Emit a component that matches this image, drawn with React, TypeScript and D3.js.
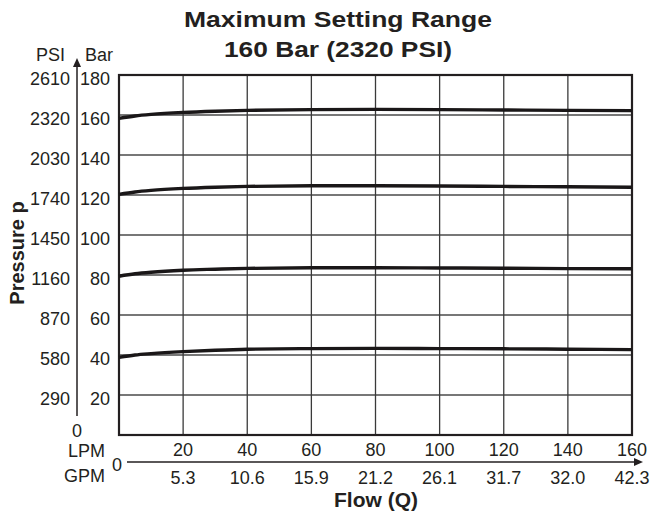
import React from 'react';
import * as d3 from 'd3';

// ---- data ----
const flowLPM = [0, 5, 10, 20, 30, 40, 60, 80, 100, 120, 140, 160];
const curve160 = [158.3, 159.5, 160.3, 161.3, 161.9, 162.3, 162.7, 162.8, 162.7, 162.5, 162.3, 162.2];
const curve120 = [120.3, 121.5, 122.3, 123.3, 123.9, 124.3, 124.6, 124.6, 124.5, 124.3, 124.1, 123.9];
const curve80 = [79.4, 80.6, 81.4, 82.4, 82.9, 83.3, 83.6, 83.6, 83.5, 83.4, 83.2, 83.1];
const curve40 = [38.8, 40.0, 40.7, 41.7, 42.4, 42.9, 43.2, 43.3, 43.2, 43.1, 42.9, 42.7];
const seriesList = [curve160, curve120, curve80, curve40];

const barTicks = [20, 40, 60, 80, 100, 120, 140, 160, 180];
const psiLabels = ['290', '580', '870', '1160', '1450', '1740', '2030', '2320', '2610'];
const lpmTicks = [20, 40, 60, 80, 100, 120, 140, 160];
const gpmLabels = ['5.3', '10.6', '15.9', '21.2', '26.1', '31.7', '32.0', '42.3'];

const titleLines = ['Maximum Setting Range', '160 Bar (2320 PSI)'];

export default function App() {
  const W = 654, H = 514;
  const left = 119, right = 632, top = 75, bottom = 435;
  const x = d3.scaleLinear().domain([0, 160]).range([left, right]);
  const y = d3.scaleLinear().domain([0, 180]).range([bottom, top]);
  const line = d3.line<number>()
    .x((_, i) => x(flowLPM[i]))
    .y((d) => y(d))
    .curve(d3.curveMonotoneX);

  const font = 'Liberation Sans, Arial, Helvetica, sans-serif';
  const axX = 77;
  const axY = 462;

  return (
    <svg width={W} height={H} style={{ position: 'absolute', left: 0, top: 0, background: '#fff' }}
      fontFamily={font}>
      {/* title */}
      <text x={338} y={27} textAnchor="middle" fontSize={22.5} fontWeight="bold" fill="#231f20"
        textLength={308} lengthAdjust="spacingAndGlyphs">{titleLines[0]}</text>
      <text x={338} y={57} textAnchor="middle" fontSize={22.5} fontWeight="bold" fill="#231f20"
        textLength={228} lengthAdjust="spacingAndGlyphs">{titleLines[1]}</text>

      {/* grid */}
      {barTicks.map((b) => (
        <line key={'h' + b} x1={left} x2={right} y1={y(b)} y2={y(b)} stroke="#4a4a4a" strokeWidth={1.3} />
      ))}
      {lpmTicks.map((v) => (
        <line key={'v' + v} x1={x(v)} x2={x(v)} y1={top} y2={bottom} stroke="#3a3a3a" strokeWidth={1.3} />
      ))}
      {/* frame */}
      <rect x={left} y={top} width={right - left} height={bottom - top} fill="none" stroke="#231f20" strokeWidth={2.2} />

      {/* curves */}
      {seriesList.map((s, i) => (
        <path key={'c' + i} d={line(s) || ''} fill="none" stroke="#1a1718" strokeWidth={3.4} strokeLinecap="butt" />
      ))}

      {/* left axis */}
      <line x1={axX} x2={axX} y1={66} y2={416} stroke="#231f20" strokeWidth={1.5} />
      <path d={`M${axX},58 L${axX - 4},67 L${axX + 4},67 Z`} fill="#231f20" />
      <text x={65} y={61} textAnchor="end" fontSize={18} fill="#231f20">PSI</text>
      <text x={85} y={61} textAnchor="start" fontSize={18} fill="#231f20">Bar</text>
      {barTicks.map((b, i) => (
        <g key={'yl' + b}>
          <text x={70} y={y(b) + 9.5} textAnchor="end" fontSize={18} fill="#231f20">{psiLabels[i]}</text>
          <text x={110} y={y(b) + 9.5} textAnchor="end" fontSize={18} fill="#231f20">{String(b)}</text>
        </g>
      ))}
      <text x={axX} y={437} textAnchor="middle" fontSize={18} fill="#231f20">0</text>

      {/* bottom axis */}
      <line x1={127} x2={636} y1={axY} y2={axY} stroke="#231f20" strokeWidth={1.5} />
      <path d={`M643,${axY} L634,${axY - 4} L634,${axY + 4} Z`} fill="#231f20" />
      <text x={117} y={470.5} textAnchor="middle" fontSize={18} fill="#231f20">0</text>
      <text x={105} y={457} textAnchor="end" fontSize={18} fill="#231f20">LPM</text>
      <text x={105} y={482} textAnchor="end" fontSize={18} fill="#231f20">GPM</text>
      {lpmTicks.map((v, i) => (
        <g key={'xl' + v}>
          <text x={x(v)} y={456} textAnchor="middle" fontSize={18} fill="#231f20">{String(v)}</text>
          <text x={x(v)} y={483.5} textAnchor="middle" fontSize={18} fill="#231f20">{gpmLabels[i]}</text>
        </g>
      ))}

      {/* axis titles */}
      <text x={376} y={507} textAnchor="middle" fontSize={20} fontWeight="bold" fill="#231f20"
        textLength={84} lengthAdjust="spacingAndGlyphs">Flow (Q)</text>
      <text transform="translate(24,253) rotate(-90)" textAnchor="middle" fontSize={20} fontWeight="bold" fill="#231f20">Pressure p</text>
    </svg>
  );
}
